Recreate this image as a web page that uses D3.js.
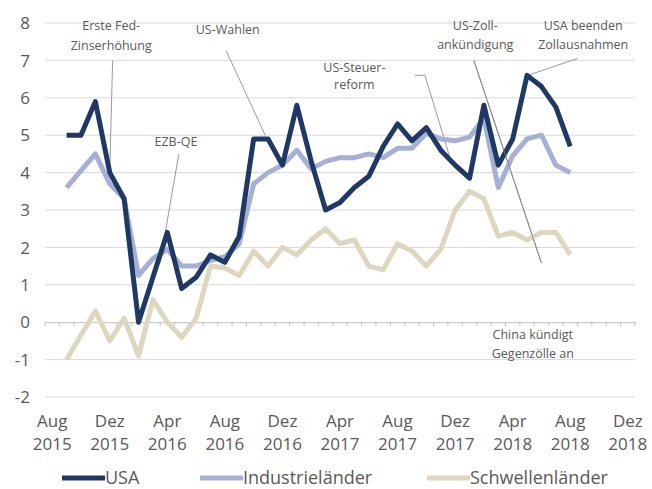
<!DOCTYPE html>
<html>
<head>
<meta charset="utf-8">
<script src="https://d3js.org/d3.v7.min.js"></script>
<style>
  body { margin: 0; background: #fff; }
  text { font-family: "Open Sans", "Noto Sans", sans-serif; fill: #595959; }
</style>
</head>
<body>
<div id="chart"></div>
<script>
// Dimensions of the chart.
var width = 652;
var height = 489;

// Month categories on the x axis (Aug 2015 .. Dez 2018).
var months = ["Aug 2015", "Sep 2015", "Okt 2015", "Nov 2015", "Dez 2015",
  "Jan 2016", "Feb 2016", "Mrz 2016", "Apr 2016", "Mai 2016", "Jun 2016", "Jul 2016",
  "Aug 2016", "Sep 2016", "Okt 2016", "Nov 2016", "Dez 2016",
  "Jan 2017", "Feb 2017", "Mrz 2017", "Apr 2017", "Mai 2017", "Jun 2017", "Jul 2017",
  "Aug 2017", "Sep 2017", "Okt 2017", "Nov 2017", "Dez 2017",
  "Jan 2018", "Feb 2018", "Mrz 2018", "Apr 2018", "Mai 2018", "Jun 2018", "Jul 2018",
  "Aug 2018", "Sep 2018", "Okt 2018", "Nov 2018", "Dez 2018"];

// Series start in Sep 2015 and end in Aug 2018.
var seriesMonths = months.slice(1, 37);

var usa = [5.0, 5.0, 5.9, 4.0, 3.3, 0.0, 1.2, 2.4, 0.9, 1.2, 1.8, 1.6,
  2.3, 4.9, 4.9, 4.2, 5.8, 4.3, 3.0, 3.2, 3.6, 3.9, 4.7, 5.3,
  4.85, 5.2, 4.6, 4.2, 3.85, 5.8, 4.2, 4.9, 6.6, 6.3, 5.75, 4.7];

var industrie = [3.6, 4.05, 4.5, 3.7, 3.3, 1.25, 1.7, 1.95, 1.5, 1.5, 1.65, 1.75,
  2.1, 3.7, 4.0, 4.2, 4.6, 4.1, 4.3, 4.4, 4.4, 4.5, 4.4, 4.65,
  4.65, 5.05, 4.9, 4.85, 4.95, 5.45, 3.6, 4.45, 4.9, 5.0, 4.2, 4.0];

var schwellen = [-1.0, -0.35, 0.3, -0.5, 0.1, -0.9, 0.6, 0.0, -0.4, 0.1, 1.5, 1.45,
  1.25, 1.9, 1.5, 2.0, 1.8, 2.2, 2.5, 2.1, 2.2, 1.5, 1.4, 2.1,
  1.9, 1.5, 1.95, 3.0, 3.5, 3.3, 2.3, 2.4, 2.2, 2.4, 2.4, 1.8];

var yTicks = [-2, -1, 0, 1, 2, 3, 4, 5, 6, 7, 8];

var seriesNames = ["USA", "Industrieländer", "Schwellenländer"];
var seriesColors = ["#1f3864", "#a6b0d4", "#ddd7bf"];

// Annotations: label lines, text anchor point and leader line points.
var annoTexts = [
  ["Erste Fed-", "Zinserhöhung"],
  ["US-Wahlen"],
  ["EZB-QE"],
  ["US-Steuer-", "reform"],
  ["US-Zoll-", "ankündigung"],
  ["USA beenden", "Zollausnahmen"],
  ["China kündigt", "Gegenzölle an"]
];
// [x in months index, y value] for where each label sits
var annoAt = [[4.1, 7.8], [12.2, 7.7], [8.6, 4.7], [21.0, 6.7], [29.4, 7.8], [36.9, 7.8], [33.4, -0.45]];
var annoLineGap = [20, 20, 20, 17, 19, 19, 19];
// leader lines as [month index, value] pairs
var annoLines = [
  [[4.2, 7.0], [4.0, 4.05]],
  [[12.1, 7.25], [14.8, 5.0]],
  [[8.8, 4.5], [7.5, 1.6]],
  [[25.2, 6.6], [25.9, 6.6], [27.8, 4.2]],
  [[29.3, 7.0], [34.0, 1.58]],
  [[36.5, 7.05], [33.05, 6.6]]
];

var margin = { left: 45, right: 17, top: 23, bottom: 92 };

var svg = d3.select("#chart").append("svg")
    .attr("width", width)
    .attr("height", height);

var x = d3.scaleBand()
    .domain(months)
    .range([margin.left, width - margin.right])
    .paddingInner(0)
    .paddingOuter(0);

var y = d3.scaleLinear()
    .domain([-2, 8])
    .range([height - margin.bottom, margin.top]);

var cx = function(m) { return x(m) + x.bandwidth() / 2; };
// position from a fractional month index (for annotations)
var fx = function(i) { return x(months[0]) + x.bandwidth() * (i + 0.5); };

// Horizontal gridlines.
svg.append("g")
    .selectAll("line")
    .data(yTicks.filter(function(d) { return d !== 0; }))
    .enter().append("line")
    .attr("x1", margin.left)
    .attr("x2", width - margin.right)
    .attr("y1", function(d) { return y(d); })
    .attr("y2", function(d) { return y(d); })
    .style("stroke", "#d9d9d9")
    .style("stroke-width", 1);

// Y axis labels.
svg.append("g")
    .selectAll("text")
    .data(yTicks)
    .enter().append("text")
    .attr("x", 30)
    .attr("y", function(d) { return y(d); })
    .attr("dy", "0.36em")
    .attr("text-anchor", "end")
    .style("font-size", "17px")
    .text(function(d) { return d; });

// Zero line with monthly tick marks between categories.
var xAxis = d3.axisBottom(x).tickSize(0).tickFormat("");
var axisG = svg.append("g")
    .attr("transform", "translate(0," + y(0) + ")")
    .call(xAxis);
axisG.select(".domain").style("stroke", "#bfbfbf");

svg.append("g")
    .selectAll("line")
    .data(d3.range(months.length + 1))
    .enter().append("line")
    .attr("x1", function(i) { return margin.left + i * x.bandwidth(); })
    .attr("x2", function(i) { return margin.left + i * x.bandwidth(); })
    .attr("y1", y(0))
    .attr("y2", y(0) + 4)
    .style("stroke", "#bfbfbf");

// X labels: every 4th month, two lines.
var xLab = svg.append("g")
    .selectAll("text")
    .data(months.filter(function(d, i) { return i % 4 === 0; }))
    .enter().append("text")
    .attr("text-anchor", "middle")
    .style("font-size", "17px");
xLab.append("tspan")
    .attr("x", cx)
    .attr("y", 427)
    .text(function(d) { return d.split(" ")[0]; });
xLab.append("tspan")
    .attr("x", cx)
    .attr("y", 450)
    .text(function(d) { return d.split(" ")[1]; });

// Annotation leader lines (drawn below the series).
var lineGen = d3.line()
    .x(function(p) { return fx(p[0]); })
    .y(function(p) { return y(p[1]); });

svg.append("g")
    .selectAll("path")
    .data(annoLines)
    .enter().append("path")
    .attr("d", lineGen)
    .style("fill", "none")
    .style("stroke", "#7f7f7f")
    .style("stroke-width", 0.8);

// Series lines, last series at the bottom.
var allSeries = [usa, industrie, schwellen];
var seriesLine = d3.line()
    .x(function(d, i) { return cx(seriesMonths[i]); })
    .y(function(d) { return y(d); });

svg.append("g")
    .selectAll("path")
    .data([2, 1, 0])
    .enter().append("path")
    .attr("d", function(k) { return seriesLine(allSeries[k]); })
    .style("fill", "none")
    .style("stroke", function(k) { return seriesColors[k]; })
    .style("stroke-width", 5)
    .style("stroke-linejoin", "round");

// The Zoll line runs across the series, redraw it on top.
svg.append("path")
    .attr("d", lineGen(annoLines[4]))
    .style("fill", "none")
    .style("stroke", "#7f7f7f")
    .style("stroke-width", 0.8);

// Annotation texts.
var anno = svg.append("g")
    .selectAll("text")
    .data(annoTexts)
    .enter().append("text")
    .attr("text-anchor", "middle")
    .style("font-size", "12.5px");
anno.each(function(lines, k) {
  var t = d3.select(this);
  lines.forEach(function(s, j) {
    t.append("tspan")
      .attr("x", fx(annoAt[k][0]))
      .attr("y", y(annoAt[k][1]) + j * annoLineGap[k])
      .text(s);
  });
});

// Legend.
var legendX = [62, 200, 427];
var lg = svg.append("g")
    .selectAll("g")
    .data(seriesNames)
    .enter().append("g")
    .attr("transform", function(d, i) { return "translate(" + legendX[i] + ",478)"; });

lg.append("line")
    .attr("x1", 0)
    .attr("x2", 43)
    .style("stroke", function(d, i) { return seriesColors[i]; })
    .style("stroke-width", 5);

lg.append("text")
    .attr("x", 43)
    .attr("dy", "0.35em")
    .style("font-size", "18px")
    .text(function(d) { return d; });
</script>
</body>
</html>
